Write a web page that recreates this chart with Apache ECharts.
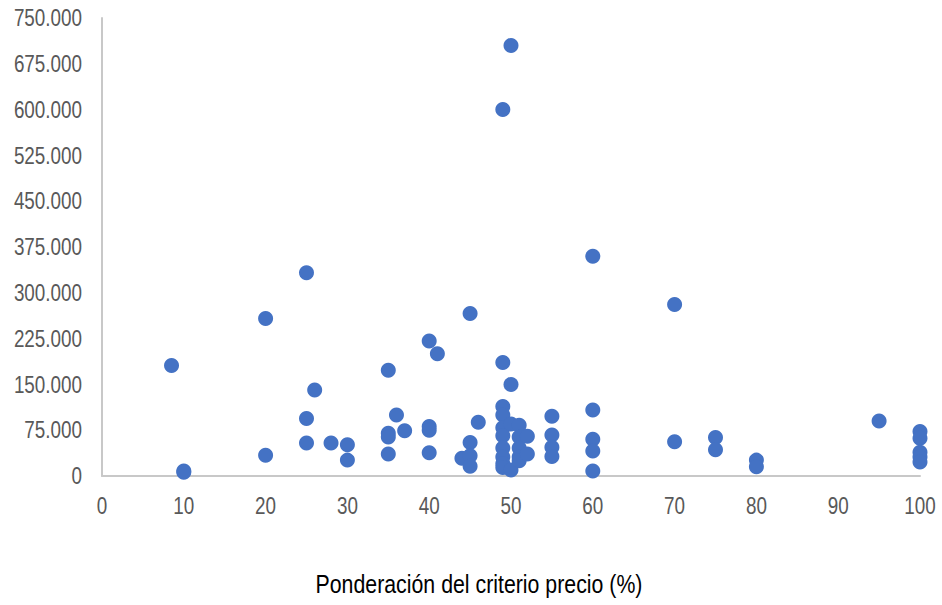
<!DOCTYPE html>
<html><head><meta charset="utf-8">
<script src="https://cdn.jsdelivr.net/npm/echarts@6/dist/echarts.min.js"></script>
<style>html,body{margin:0;padding:0;background:#fff}#c{width:942px;height:605px}</style>
</head><body><div id="c"></div>
<script>
const xLabel = "Ponderación del criterio precio (%)";
const weights = [8.5,10,10,20,20,25,25,25,26,28,30,30,35,35,35,35,36,37,40,40,40,40,41,44,45,45,45,45,46,
  49,49,49,49,49,49,49,49,49,49,50,50,50,50,51,51,51,51,51,52,52,55,55,55,55,
  60,60,60,60,60,70,70,75,75,80,80,95,100,100,100,100,100];
const amounts = [181000,8000,6000,258000,34000,333000,94000,54000,141000,54000,51000,26000,173000,70000,64000,36000,100000,74000,221000,81000,75000,38000,200000,29000,266000,55000,33000,16000,88000,
  600000,186000,114000,100000,79000,66000,46000,31000,20000,14000,705000,150000,85000,10000,83000,64000,46000,31000,25000,65000,36000,98000,67000,47000,32000,
  360000,108000,60000,41000,8000,281000,56000,63000,43000,26000,15000,90000,73000,62000,39000,31000,23000];
const data = weights.map((w,i)=>[w, amounts[i]]);
const font = "'Liberation Sans',Arial,sans-serif";
const chart = echarts.init(document.getElementById('c'), null, {renderer:'svg'});
chart.setOption({
  animation:false,
  grid:{left:102,right:22,top:18,bottom:129,containLabel:false,outerBoundsMode:'none'},
  graphic:[{type:'text',x:479,y:571,silent:true,
    style:{text:xLabel,fill:'#000',font:"26px 'Liberation Sans',Arial,sans-serif",textAlign:'center',textVerticalAlign:'top'}}],
  xAxis:{type:'value',min:0,max:100,interval:10,
    axisLine:{show:true,lineStyle:{color:'#c8c8c8',width:2}},axisTick:{show:false},splitLine:{show:false},
    axisLabel:{color:'#595959',fontSize:23,fontFamily:font,margin:18}},
  yAxis:{type:'value',min:0,max:750000,interval:75000,
    axisLine:{show:true,lineStyle:{color:'#c8c8c8',width:2}},axisTick:{show:false},splitLine:{show:false},
    axisLabel:{color:'#595959',fontSize:23,fontFamily:font,margin:20,
      formatter:v=>v===0?'0':v.toLocaleString('de-DE')}},
  series:[{type:'scatter',data:data,symbolSize:15,itemStyle:{color:'#4472C4',opacity:1}}]
});
function narrow(){
  document.querySelectorAll('#c svg text').forEach(t=>{
    if(t.getAttribute('data-n')) return;
    const tr = t.getAttribute('transform') || '';
    t.setAttribute('transform', tr + ' scale(0.82 1)');
    t.setAttribute('data-n','1');
  });
}
chart.getZr().flush && chart.getZr().flush();
narrow();
chart.on('finished', narrow);
setTimeout(narrow, 50);
</script></body></html>
